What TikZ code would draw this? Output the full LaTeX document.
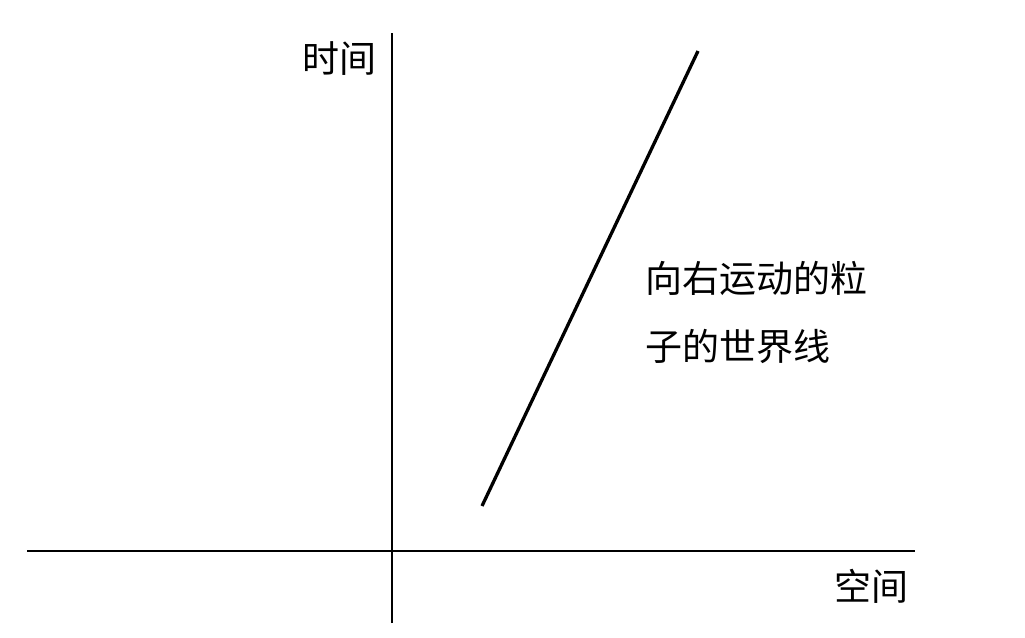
\documentclass[tikz,border=0pt]{standalone}
\usepackage{fontspec}
\newfontfamily\cjk{Noto Sans CJK SC}
\begin{document}
\begin{tikzpicture}[x=1pt,y=-1pt,
  axis/.style={line width=2.3pt,black},
  wline/.style={line width=3.3pt,black},
  lbl/.style={inner sep=0pt,font=\cjk\fontsize{37}{37}\selectfont}]
\useasboundingbox (0,0) rectangle (1025,637);
\fill[white] (0,0) rectangle (1025,637);
\coordinate (vt) at (392,33);
\coordinate (vb) at (392,623);
\coordinate (hl) at (27,551);
\coordinate (hr) at (915,551);
\coordinate (wb) at (482,506);
\coordinate (wt) at (698,51);
\draw[axis] (vb) -- (vt);
\draw[axis] (hl) -- (hr);
\draw[wline] (wb) -- (wt);
\node[lbl] (tlabel) at (339,59) {时间};
\node[lbl] (slabel) at (871,586) {空间};
\node[lbl,anchor=west] (w1) at (645,278) {向右运动的粒};
\node[lbl,anchor=west] (w2) at (645,346) {子的世界线};
\end{tikzpicture}
\end{document}
